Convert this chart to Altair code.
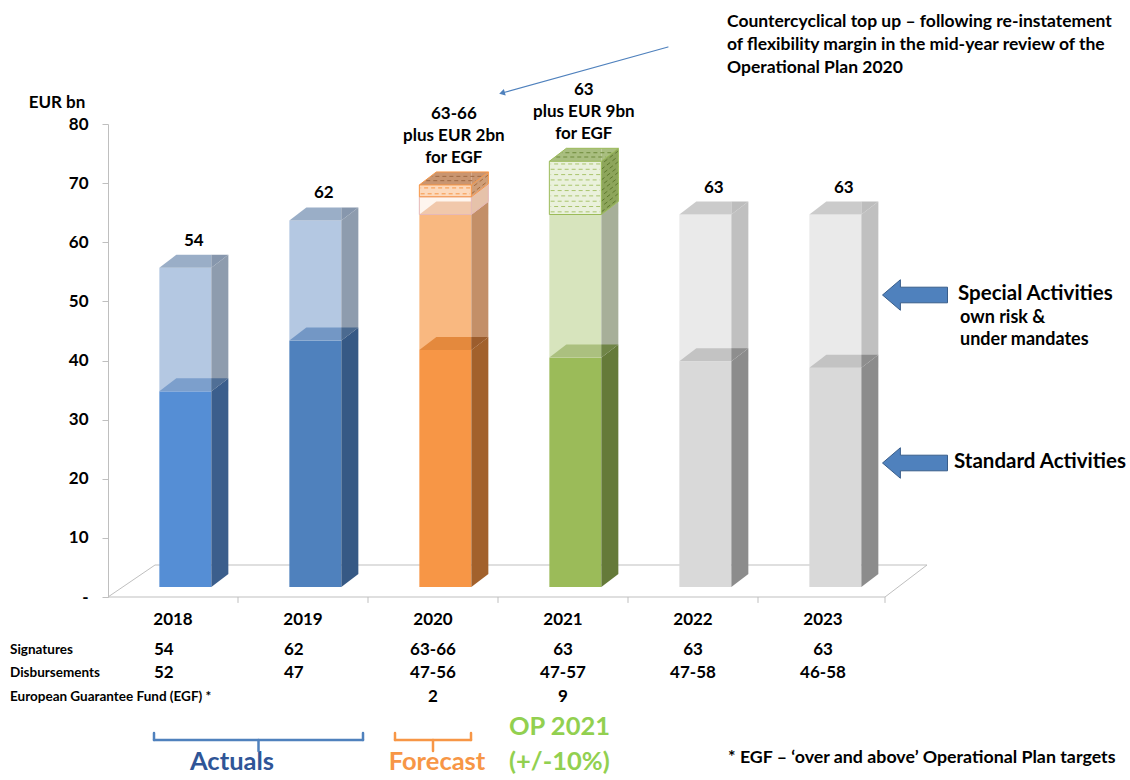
import altair as alt
import pandas as pd

# ---------------- data ----------------
years = ["2018", "2019", "2020", "2021", "2022", "2023"]
standard = [33.1, 41.7, 40.1, 38.8, 38.2, 37.1]      # Standard Activities (EUR bn)
signature_total = [54, 62, 63, 63, 63, 63]           # top of Special Activities
range_top = [None, None, 66, None, None, None]       # upper end of signature range
egf = [0, 0, 2, 9, 0, 0]                             # European Guarantee Fund top up
bar_labels = ["54", "62", "63-66\nplus EUR 2bn\nfor EGF", "63\nplus EUR 9bn\nfor EGF", "63", "63"]
signatures = ["54", "62", "63-66", "63", "63", "63"]
disbursements = ["52", "47", "47-56", "47-57", "47-58", "46-58"]
egf_row = ["", "", "2", "9", "", ""]
y_ticks = [0, 10, 20, 30, 40, 50, 60, 70, 80]

# ---------------- styles ----------------
std_front = ["#558ED5", "#4F81BD", "#F79646", "#9BBB59", "#D9D9D9", "#D9D9D9"]
std_side = ["#3B5E8C", "#365985", "#A2612C", "#657A39", "#8C8C8C", "#8C8C8C"]
std_top_f = ["#7C9FCC", "#7397C5", "#E4893D", "#ABC07F", "#C3C3C3", "#C3C3C3"]
std_top_s = ["#506F96", "#4B6A90", "#9C5D2D", "#708547", "#8E8E8E", "#8E8E8E"]
spc_front = ["#B4C8E2", "#B4C8E2", "#F9B880", "#D7E4BD", "#EAEAEA", "#EAEAEA"]
spc_side = ["#8E9CAE", "#8E9CAE", "#C38F68", "#A7AF99", "#C0C0C0", "#C0C0C0"]
spc_top_f = ["#9AAEC7", "#9AAEC7", "#E8AE86", "#C3D0A8", "#CBCBCB", "#CBCBCB"]
spc_top_s = ["#8797AD", "#8797AD", "#C9A089", "#A0A890", "#BDBDBD", "#BDBDBD"]
egf_front = [None, None, "#FCD9BC", "#EAF1DC", None, None]
egf_side = [None, None, "#CF9E78", "#8DA55B", None, None]
egf_top = [None, None, "#C99570", "#A9BE80", None, None]
egf_line = [None, None, "#F79646", "#9BBB59", None, None]
hatch_front = [None, None, "#F79646", "#A9C46C", None, None]
hatch_side = [None, None, "#A86A3A", "#5F7A2E", None, None]
hatch_top = [None, None, "#9E6A44", "#6E8A3A", None, None]

FONT = "Lato"
BAND_PX = 130
PLOT_H = 473
PX_PER_UNIT = PLOT_H / 80
FL, FW = 0.395, 0.40          # front face offset / width in band units
DX = 17 / BAND_PX             # 3-D depth (x, band units)
DY = 13 / PX_PER_UNIT         # 3-D depth (y, value units)
BASE = 10 / PX_PER_UNIT       # bars stand inside the floor (front edge above axis line)
LINE_H = 22
NUM_SIZE = 17

XS = alt.Scale(domain=[0, 6], range=[0, 6 * BAND_PX], nice=False, zero=False)
YS = alt.Scale(domain=[0, 80], nice=False, zero=False)
Y_AXIS = alt.Axis(values=y_ticks, labelExpr="datum.value == 0 ? '-' : datum.label",
                  title=None, grid=False, domainColor="#BFBFBF", tickColor="#BFBFBF",
                  tickSize=6, labelFont=FONT, labelFontSize=NUM_SIZE, labelFontWeight="bold",
                  labelColor="black", labelPadding=14)


def X(f="x"):
    return alt.X(f + ":Q", scale=XS, axis=None)


def Y(f="y"):
    return alt.Y(f + ":Q", scale=YS, axis=Y_AXIS, stack=None)


# ---------------- faces ----------------
rects = []      # front faces
polys = []      # side / top parallelograms
edges = []      # outlines
counter = [0]


def front(stage, i, b, t, fill, op=1.0):
    xl = i + FL
    rects.append(dict(stage=stage, x=xl, x2=xl + FW, y=BASE + b, y2=BASE + t, fill=fill, op=op))


def poly(stage, pts, fill):
    g = "g%03d" % counter[0]
    counter[0] += 1
    for k, (x, y, y2) in enumerate(pts):
        polys.append(dict(stage=stage, gid=g, x=x, y=y, y2=y2, fill=fill))


def side(i, b, t):
    xr = i + FL + FW
    return [(xr, BASE + b, BASE + t), (xr + DX, BASE + b + DY, BASE + t + DY)]


def top_a(i, t):
    xl = i + FL
    T = BASE + t
    return [(xl, T, T), (xl + DX, T, T + DY), (xl + FW, T, T + DY)]


def top_b(i, t):
    xr = i + FL + FW
    T = BASE + t
    return [(xr, T, T + DY), (xr + DX, T + DY, T + DY)]


def outline(i, b, t, color, with_top=True):
    xl, xr = i + FL, i + FL + FW
    B, T = BASE + b, BASE + t
    e = [(xl, B, xr, B), (xl, T, xr, T), (xl, B, xl, T), (xr, B, xr, T),
         (xr, B, xr + DX, B + DY), (xr, T, xr + DX, T + DY), (xr + DX, B + DY, xr + DX, T + DY)]
    if with_top:
        e += [(xl, T, xl + DX, T + DY), (xl + DX, T + DY, xr + DX, T + DY)]
    for (a, bb, c, d) in e:
        edges.append(dict(x=a, y=bb, x2=c, y2=d, c=color))


hatch = []
for i in range(len(years)):
    s, tot = standard[i], signature_total[i]
    front(1, i, 0, s, std_front[i])
    poly(1, side(i, 0, s), std_side[i])
    front(2, i, s, tot, spc_front[i])
    poly(2, side(i, s, tot), spc_side[i])
    poly(3, top_a(i, s), std_top_f[i])
    poly(3, top_b(i, s), std_top_s[i])
    egf_base = range_top[i] if range_top[i] is not None else tot
    if not (egf[i] > 0 and range_top[i] is None):
        poly(4, top_a(i, tot), spc_top_f[i])
        poly(4, top_b(i, tot), spc_top_s[i])
    if range_top[i] is not None:
        front(5, i, tot, range_top[i], "#FDE9D9", 0.45)
        poly(5, side(i, tot, range_top[i]), "#E6C2AA")
        outline(i, tot, range_top[i], "#E6B9B8", with_top=False)
    if egf[i] > 0:
        b, t = egf_base, egf_base + egf[i]
        front(6, i, b, t, egf_front[i])
        poly(6, side(i, b, t), egf_side[i])
        poly(7, top_a(i, t), egf_top[i])
        poly(7, top_b(i, t), egf_top[i])
        outline(i, b, t, egf_line[i])
        n = max(2, int(round((t - b) / 0.9)))
        xl, xr = i + FL, i + FL + FW
        for k in range(n):
            yk = BASE + b + (k + 0.5) * (t - b) / n
            hatch.append(dict(x=xl + 0.01, x2=xr - 0.01, y=yk, y2=yk, c=hatch_front[i], p=k % 2))
            hatch.append(dict(x=xr, x2=xr + DX, y=yk, y2=yk + DY, c=hatch_side[i], p=k % 2))
        for k, sfrac in enumerate([0.33, 0.66]):
            yt = BASE + t + sfrac * DY
            hatch.append(dict(x=xl + sfrac * DX + 0.01, x2=xr + sfrac * DX - 0.01,
                              y=yt, y2=yt, c=hatch_top[i], p=k % 2))

rect_df = pd.DataFrame(rects)
poly_df = pd.DataFrame(polys)
hatch_df = pd.DataFrame(hatch)
edge_df = pd.DataFrame(edges)


def rect_layer(stage):
    return alt.Chart(rect_df).transform_filter(alt.datum.stage == stage).mark_rect().encode(
        x=X(), x2=alt.X2("x2:Q"), y=Y(), y2=alt.Y2("y2:Q"),
        color=alt.Color("fill:N", scale=None),
        opacity=alt.Opacity("op:Q", scale=None))


def poly_layer(stage):
    return alt.Chart(poly_df).transform_filter(alt.datum.stage == stage).mark_area(
        orient="vertical", opacity=1
    ).encode(
        x=X(), y=Y(), y2=alt.Y2("y2:Q"), detail="gid:N",
        color=alt.Color("fill:N", scale=None),
    )


# ---------------- floor & x axis ----------------
FLOOR_BACK = 32 / PX_PER_UNIT
FLOOR_FR = (885 - 108) / BAND_PX
floor_df = pd.DataFrame([
    dict(x=0, x2=47 / BAND_PX, y=0, y2=FLOOR_BACK),
    dict(x=47 / BAND_PX, x2=(927 - 108) / BAND_PX, y=FLOOR_BACK, y2=FLOOR_BACK),
    dict(x=(927 - 108) / BAND_PX, x2=FLOOR_FR, y=FLOOR_BACK, y2=0),
    dict(x=0, x2=FLOOR_FR, y=0, y2=0),
] + [dict(x=k, x2=k, y=0, y2=-1.0) for k in [1, 2, 3, 4, 5]]
  + [dict(x=FLOOR_FR, x2=FLOOR_FR, y=0, y2=-1.0)])

floor = alt.Chart(floor_df).mark_rule(color="#BFBFBF", strokeWidth=1).encode(
    x=X(), x2=alt.X2("x2:Q"), y=Y(), y2=alt.Y2("y2:Q"))


def hatch_layer(par):
    return alt.Chart(hatch_df).transform_filter(alt.datum.p == par).mark_rule(
        strokeWidth=1, strokeDash=[4, 3], strokeDashOffset=0 if par == 0 else 3.5
    ).encode(x=X(), x2=alt.X2("x2:Q"), y=Y(), y2=alt.Y2("y2:Q"),
             color=alt.Color("c:N", scale=None))


edge_layer = alt.Chart(edge_df).mark_rule(strokeWidth=1).encode(
    x=X(), x2=alt.X2("x2:Q"), y=Y(), y2=alt.Y2("y2:Q"), color=alt.Color("c:N", scale=None))

# ---------------- bar labels ----------------
lab_x, lab_y = [], []
for i in range(len(years)):
    top = (range_top[i] if range_top[i] is not None else signature_total[i]) + egf[i]
    n_lines = bar_labels[i].count("\n") + 1
    lab_x.append(i + FL + (FW + DX) / 2)
    lab_y.append(BASE + top + DY + (n_lines - 1) * LINE_H / PX_PER_UNIT)
lab_df = pd.DataFrame({"x": lab_x, "y": lab_y, "t": bar_labels})
bar_lab = alt.Chart(lab_df).mark_text(
    baseline="bottom", dy=-5, lineBreak="\n", lineHeight=LINE_H, font=FONT,
    fontSize=NUM_SIZE, fontWeight="bold", color="black"
).encode(x=X(), y=Y(), text="t:N")

# ---------------- table ----------------
OX, OY = 108, 124  # plot origin on the page
N_ACTUAL = 2       # actual years' figures are left aligned under the year


def table_row(values, page_y, is_header=False):
    df = pd.DataFrame({"x": [i + 0.5 for i in range(len(values))], "t": values,
                       "k": list(range(len(values)))})
    base = alt.Chart(df)
    style = dict(font=FONT, fontSize=NUM_SIZE, fontWeight="bold", color="black", baseline="middle")
    enc = dict(x=X(), y=alt.value(page_y - OY), text="t:N")
    if is_header:
        return [base.mark_text(**style).encode(**enc)]
    return [
        base.transform_filter(alt.datum.k < N_ACTUAL).mark_text(align="left", dx=-19, **style).encode(**enc),
        base.transform_filter(alt.datum.k >= N_ACTUAL).mark_text(**style).encode(**enc),
    ]


def txt(text, px, py, size=14, color="black", align="left", weight="bold", baseline="middle"):
    return alt.Chart(pd.DataFrame({"t": [text]})).mark_text(
        font=FONT, fontSize=size, fontWeight=weight, color=color, align=align,
        baseline=baseline
    ).encode(x=alt.value(px - OX), y=alt.value(py - OY), text="t:N")


def seg(x1, y1, x2, y2, color, width=1.0):
    return alt.Chart(pd.DataFrame({"a": [0]})).mark_rule(
        color=color, strokeWidth=width, strokeCap="round").encode(
        x=alt.value(x1 - OX), x2=alt.value(x2 - OX), y=alt.value(y1 - OY), y2=alt.value(y2 - OY))


def bracket(x1, x2, y_line, y_end, y_mid, color):
    xm = (x1 + x2) / 2
    return [seg(x1, y_end, x1, y_line, color, 2.5), seg(x1, y_line, x2, y_line, color, 2.5),
            seg(x2, y_line, x2, y_end, color, 2.5), seg(xm, y_line, xm, y_mid, color, 2.5)]


ARROW = "M-1,0 L-0.45,-0.47 L-0.45,-0.24 L1,-0.24 L1,0.24 L-0.45,0.24 L-0.45,0.47 Z"


def block_arrow(cx, cy):
    return alt.Chart(pd.DataFrame({"a": [0]})).mark_point(
        shape=ARROW, size=65 * 65, filled=True, fill="#4F81BD", stroke="#385D8A",
        strokeWidth=1, opacity=1).encode(x=alt.value(cx - OX), y=alt.value(cy - OY))


layers = [floor]
layers += [rect_layer(1), poly_layer(1), rect_layer(2), poly_layer(2), poly_layer(3),
           poly_layer(4), rect_layer(5), poly_layer(5), rect_layer(6), poly_layer(6),
           poly_layer(7)]
layers += [hatch_layer(0), hatch_layer(1), edge_layer, bar_lab]
layers += table_row(years, 620, is_header=True)
layers += table_row(signatures, 650) + table_row(disbursements, 673) + table_row(egf_row, 697)
layers += [
    txt("Signatures", 10, 650, 13.5),
    txt("Disbursements", 10, 673, 13.5),
    txt("European Guarantee Fund (EGF) *", 10, 697, 13.5),
    txt("EUR bn", 57, 103, 17, align="center"),
    txt("Countercyclical top up \u2013 following re-instatement", 727, 22, 17.5),
    txt("of flexibility margin in the mid-year review of the", 727, 45, 17.5),
    txt("Operational Plan 2020", 727, 68, 17.5),
    txt("Special Activities", 958, 294, 20.5),
    txt("own risk &", 960, 318, 18),
    txt("under mandates", 960, 340, 18),
    txt("Standard Activities", 954, 462, 20.5),
    txt("Actuals", 232, 762, 25.5, color="#2F5597", align="center"),
    txt("Forecast", 437, 762, 25.5, color="#F79646", align="center"),
    txt("OP 2021", 509, 727, 25.5, color="#92D050"),
    txt("(+/-10%)", 509, 762, 25.5, color="#92D050"),
    txt("* EGF \u2013 \u2018over and above\u2019 Operational Plan targets", 728, 758, 17.8),
    block_arrow(915, 295),
    block_arrow(915, 463),
    seg(668, 47, 502, 93, "#4F81BD", 1.2),
    alt.Chart(pd.DataFrame({"a": [0]})).mark_point(
        shape="triangle-up", size=45, filled=True, color="#4F81BD", angle=254, opacity=1
    ).encode(x=alt.value(502 - OX), y=alt.value(93 - OY)),
]
layers += bracket(154, 363, 740, 733, 751, "#4F81BD")
layers += bracket(395, 471, 740, 733, 751, "#F79646")

chart = alt.layer(*layers).properties(
    width=1130 - OX, height=PLOT_H,
    padding={"left": OX, "top": OY, "right": 0, "bottom": 780 - OY - PLOT_H},
    autosize=alt.AutoSizeParams(type="none"),
    background="white",
).configure_view(stroke=None)

chart.save("out.html", embed_options={"renderer": "svg", "actions": False})
